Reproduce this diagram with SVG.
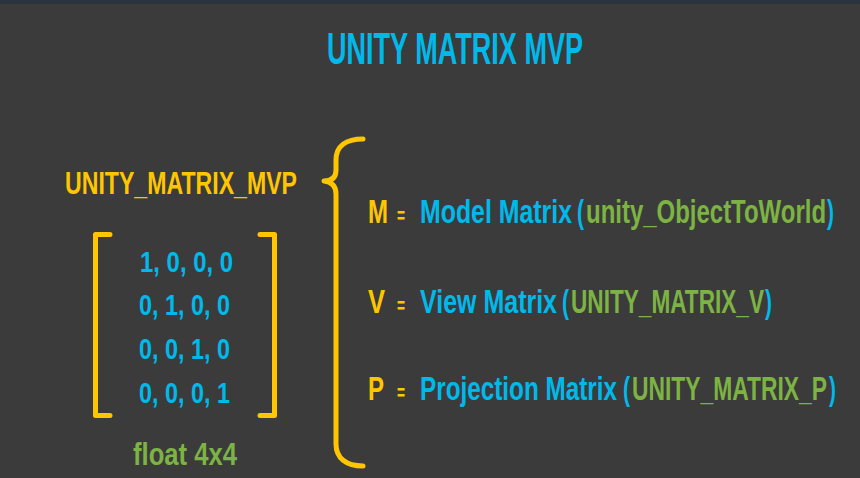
<svg xmlns="http://www.w3.org/2000/svg" width="860" height="478" viewBox="0 0 860 478">
<style>
.t{font-family:"Liberation Sans","Arial",sans-serif;font-weight:bold}
.c{fill:#00b9eb}
.y{fill:#ffc600}
.g{fill:#7cb342}
.br{fill:none;stroke:#ffc600;stroke-width:5;stroke-linecap:round;stroke-linejoin:round}
</style>
<rect x="0" y="0" width="860" height="478" fill="#3b3b3b"/>
<rect x="0" y="0" width="860" height="4" fill="#2b3240"/>
<g id="title">
<text class="t c" transform="translate(327,64) scale(0.61,1)" font-size="44" textLength="419.7" lengthAdjust="spacingAndGlyphs">UNITY MATRIX MVP</text>
</g>
<g id="mvp-label">
<text class="t y" transform="translate(65,194) scale(0.74,1)" font-size="31" textLength="313.5" lengthAdjust="spacingAndGlyphs">UNITY_MATRIX_MVP</text>
</g>
<g id="matrix">
<path class="br" d="M110,234.5 H95.5 V415.5 H110"/>
<path class="br" d="M260,234.5 H274.5 V415.5 H260"/>
<text class="t c" transform="translate(140,272) scale(0.8,1)" font-size="30" textLength="116.3" lengthAdjust="spacingAndGlyphs">1, 0, 0, 0</text>
<text class="t c" transform="translate(139,315) scale(0.78,1)" font-size="30" textLength="116.7" lengthAdjust="spacingAndGlyphs">0, 1, 0, 0</text>
<text class="t c" transform="translate(139,359) scale(0.78,1)" font-size="30" textLength="116.7" lengthAdjust="spacingAndGlyphs">0, 0, 1, 0</text>
<text class="t c" transform="translate(139,403) scale(0.78,1)" font-size="30" textLength="116.7" lengthAdjust="spacingAndGlyphs">0, 0, 0, 1</text>
<text class="t g" transform="translate(133,465) scale(0.83,1)" font-size="31" textLength="125.3" lengthAdjust="spacingAndGlyphs">float 4x4</text>
</g>
<g id="connectors">
<path class="br" d="M363,139 C346,139 336,146 336,160 L336,170 C336,177 332,181 324,181 C332,182 336,186 336,194 L336,444 C336,458 346,466 363,466"/>
</g>
<g id="row-m">
<text class="t y" transform="translate(368,223) scale(0.71,1)" font-size="34" textLength="28.2" lengthAdjust="spacingAndGlyphs">M</text>
<text class="t y" transform="translate(397,223) scale(0.625,1)" font-size="22" textLength="12.8" lengthAdjust="spacingAndGlyphs">=</text>
<text class="t c" transform="translate(420,223) scale(0.73,1)" font-size="34" textLength="208.2" lengthAdjust="spacingAndGlyphs">Model Matrix</text>
<text class="t c" transform="translate(577,223) scale(0.62,1)" font-size="34" textLength="11.3" lengthAdjust="spacingAndGlyphs">(</text>
<text class="t g" transform="translate(586,223) scale(0.7,1)" font-size="34" textLength="342.9" lengthAdjust="spacingAndGlyphs">unity_ObjectToWorld</text>
<text class="t c" transform="translate(827,223) scale(0.62,1)" font-size="34" textLength="11.3" lengthAdjust="spacingAndGlyphs">)</text>
</g>
<g id="row-v">
<text class="t y" transform="translate(368,313) scale(0.75,1)" font-size="34" textLength="22.7" lengthAdjust="spacingAndGlyphs">V</text>
<text class="t y" transform="translate(397,313) scale(0.625,1)" font-size="22" textLength="12.8" lengthAdjust="spacingAndGlyphs">=</text>
<text class="t c" transform="translate(420,313) scale(0.73,1)" font-size="34" textLength="187.7" lengthAdjust="spacingAndGlyphs">View Matrix</text>
<text class="t c" transform="translate(562,313) scale(0.62,1)" font-size="34" textLength="11.3" lengthAdjust="spacingAndGlyphs">(</text>
<text class="t g" transform="translate(571,313) scale(0.59,1)" font-size="34" textLength="327.1" lengthAdjust="spacingAndGlyphs">UNITY_MATRIX_V</text>
<text class="t c" transform="translate(765,313) scale(0.62,1)" font-size="34" textLength="11.3" lengthAdjust="spacingAndGlyphs">)</text>
</g>
<g id="row-p">
<text class="t y" transform="translate(368,400) scale(0.7,1)" font-size="34" textLength="22.9" lengthAdjust="spacingAndGlyphs">P</text>
<text class="t y" transform="translate(397,400) scale(0.625,1)" font-size="22" textLength="12.8" lengthAdjust="spacingAndGlyphs">=</text>
<text class="t c" transform="translate(420,400) scale(0.71,1)" font-size="34" textLength="277.5" lengthAdjust="spacingAndGlyphs">Projection Matrix</text>
<text class="t c" transform="translate(623,400) scale(0.62,1)" font-size="34" textLength="11.3" lengthAdjust="spacingAndGlyphs">(</text>
<text class="t g" transform="translate(632,400) scale(0.6,1)" font-size="34" textLength="325" lengthAdjust="spacingAndGlyphs">UNITY_MATRIX_P</text>
<text class="t c" transform="translate(829,400) scale(0.62,1)" font-size="34" textLength="11.3" lengthAdjust="spacingAndGlyphs">)</text>
</g>
</svg>
